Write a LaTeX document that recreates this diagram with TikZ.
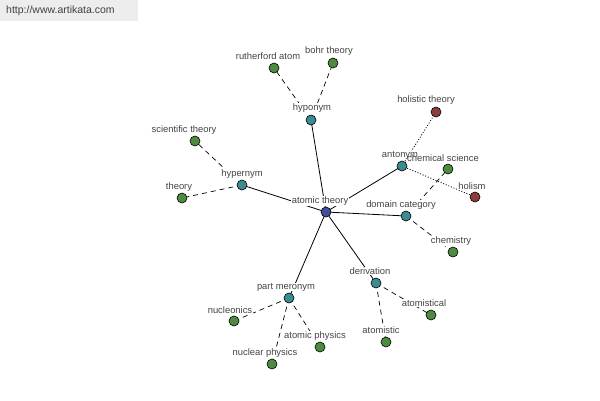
\documentclass[tikz,border=0pt]{standalone}
\usepackage{fontspec}
\setmainfont{Liberation Sans}
\begin{document}
\begin{tikzpicture}[x=1pt,y=-1pt,
  dot/.style={circle,draw=black,line width=0.6pt,minimum size=10pt,inner sep=0pt},
  hub/.style={dot,fill=hubc},
  mid/.style={dot,fill=midc},
  leaf/.style={dot,fill=leafc},
  opp/.style={dot,fill=oppc},
  lab/.style={fill=white,inner sep=0.3pt,text=labc,font=\fontsize{9.4}{10}\selectfont},
  solidedge/.style={line width=0.8pt},
  dashedge/.style={line width=0.7pt,dash pattern=on 5pt off 4pt},
  dotedge/.style={line width=0.8pt,dash pattern=on 1pt off 1.8pt}]
\definecolor{hubc}{HTML}{3F4F99}
\definecolor{midc}{HTML}{3B8C91}
\definecolor{leafc}{HTML}{4C8B40}
\definecolor{oppc}{HTML}{8E3B3D}
\definecolor{labc}{HTML}{444444}
\useasboundingbox (0,0) rectangle (600,400);
\fill[white] (0,0) rectangle (600,400);
\fill[black!7] (0,0) rectangle (138,21);
\node[anchor=west,inner sep=0pt,text=black!75,font=\fontsize{10.5}{12}\selectfont] (url) at (6,11) {http://www.artikata.com};
% coordinates
\coordinate (at) at (326,212);
\coordinate (hyp) at (311,120);
\coordinate (ruth) at (274,68);
\coordinate (bohr) at (333,63);
\coordinate (hyper) at (242,185);
\coordinate (sci) at (195,141);
\coordinate (th) at (182,198);
\coordinate (ant) at (402,166);
\coordinate (hol) at (436,112);
\coordinate (holism) at (475,197);
\coordinate (chs) at (448,169);
\coordinate (dom) at (406,216);
\coordinate (chem) at (453,252);
\coordinate (der) at (376,283);
\coordinate (atl) at (431,315);
\coordinate (atc) at (386,342);
\coordinate (pm) at (289,298);
\coordinate (nuc) at (234,321);
\coordinate (aph) at (320,347);
\coordinate (nph) at (272,364);
% edges
\draw[solidedge] (at) -- (hyp);
\draw[solidedge] (at) -- (hyper);
\draw[solidedge] (at) -- (ant);
\draw[solidedge] (at) -- (dom);
\draw[solidedge] (at) -- (der);
\draw[solidedge] (at) -- (pm);
\draw[dashedge] (hyp) -- (ruth);
\draw[dashedge] (hyp) -- (bohr);
\draw[dashedge] (hyper) -- (sci);
\draw[dashedge] (hyper) -- (th);
\draw[dotedge] (ant) -- (hol);
\draw[dotedge] (ant) -- (holism);
\draw[dashedge] (dom) -- (chs);
\draw[dashedge] (dom) -- (chem);
\draw[dashedge] (der) -- (atl);
\draw[dashedge] (der) -- (atc);
\draw[dashedge] (pm) -- (nuc);
\draw[dashedge] (pm) -- (aph);
\draw[dashedge] (pm) -- (nph);
% labels
\node[lab] (l-at) at (320,201) {atomic theory};
\node[lab] (l-hyp) at (312,108) {hyponym};
\node[lab] (l-ruth) at (268,56) {rutherford atom};
\node[lab] (l-bohr) at (329,51) {bohr theory};
\node[lab] (l-hyper) at (242,174) {hypernym};
\node[lab] (l-sci) at (184,130) {scientific theory};
\node[lab] (l-th) at (179,187) {theory};
\node[lab] (l-ant) at (400,155) {antonym};
\node[lab] (l-hol) at (426,100) {holistic theory};
\node[lab] (l-holism) at (472,186) {holism};
\node[lab,fill=none] (l-chs) at (443,158) {chemical science};
\node[lab] (l-dom) at (401,205) {domain category};
\node[lab] (l-chem) at (451,241) {chemistry};
\node[lab] (l-der) at (370,271) {derivation};
\node[lab] (l-atl) at (424,303) {atomistical};
\node[lab] (l-atc) at (381,330) {atomistic};
\node[lab] (l-pm) at (286,287) {part meronym};
\node[lab] (l-nuc) at (230,310) {nucleonics};
\node[lab] (l-aph) at (315,336) {atomic physics};
\node[lab] (l-nph) at (265,353) {nuclear physics};
% nodes
\node[hub] (n-at) at (at) {};
\node[mid] (n-hyp) at (hyp) {};
\node[mid] (n-hyper) at (hyper) {};
\node[mid] (n-ant) at (ant) {};
\node[mid] (n-dom) at (dom) {};
\node[mid] (n-der) at (der) {};
\node[mid] (n-pm) at (pm) {};
\node[leaf] (n-ruth) at (ruth) {};
\node[leaf] (n-bohr) at (bohr) {};
\node[leaf] (n-sci) at (sci) {};
\node[leaf] (n-th) at (th) {};
\node[opp] (n-hol) at (hol) {};
\node[opp] (n-holism) at (holism) {};
\node[leaf] (n-chs) at (chs) {};
\node[leaf] (n-chem) at (chem) {};
\node[leaf] (n-atl) at (atl) {};
\node[leaf] (n-atc) at (atc) {};
\node[leaf] (n-nuc) at (nuc) {};
\node[leaf] (n-aph) at (aph) {};
\node[leaf] (n-nph) at (nph) {};
\end{tikzpicture}
\end{document}
